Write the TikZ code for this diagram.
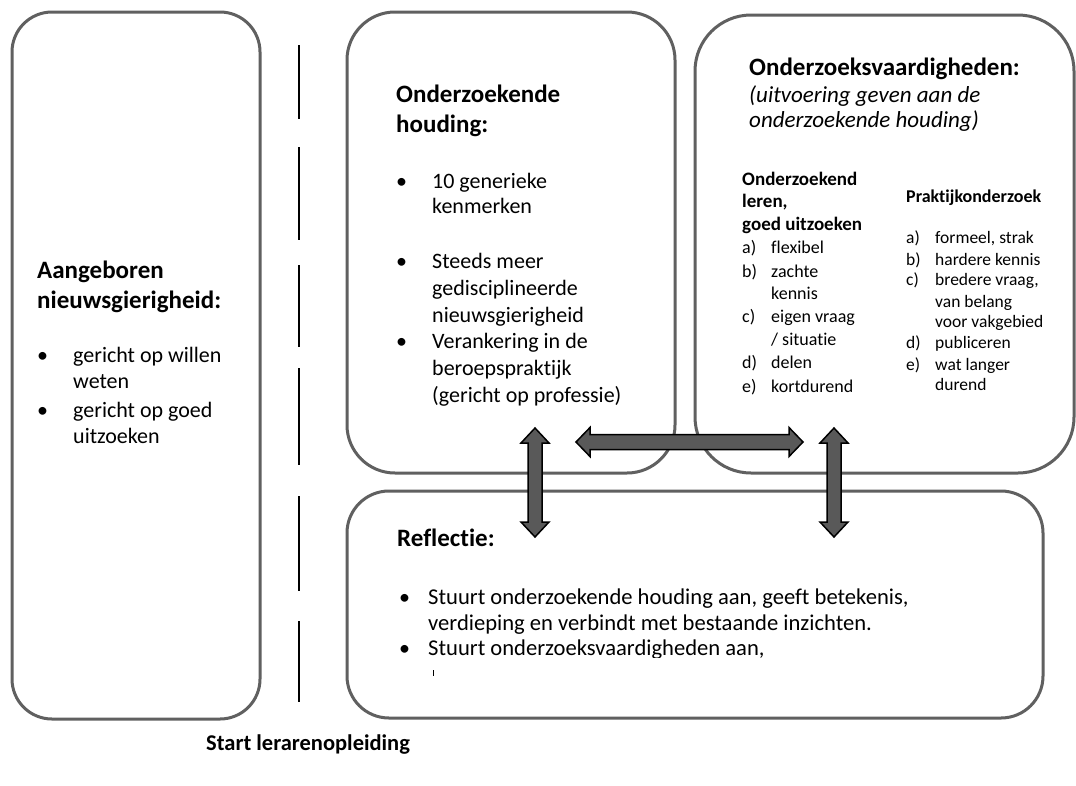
\documentclass[tikz,border=0pt]{standalone}
\usepackage{fontspec}
\setmainfont{Carlito}[Ligatures=NoCommon]
\definecolor{boxgray}{HTML}{606060}
\definecolor{arrgray}{HTML}{595959}
\newcommand{\vdarrow}[3]{%
  \draw[blockarrow] (#1,#2) -- ++(14,15) -- ++(-7,0) -- (#1+7,#3-15) -- ++(7,0) -- (#1,#3)
    -- ++(-14,-15) -- ++(7,0) -- (#1-7,#2+15) -- ++(-7,0) -- cycle;}
\newcommand{\hdarrow}[3]{%
  \draw[blockarrow] (#2,#1) -- ++(14,-14.5) -- ++(0,7) -- (#3-14,#1-7.5) -- ++(0,-7) -- (#3,#1)
    -- ++(-14,14.5) -- ++(0,-7) -- (#2+14,#1+7.5) -- ++(0,7) -- cycle;}
\begin{document}
\begin{tikzpicture}[x=1pt,y=-1pt,
  box/.style={draw=boxgray, line width=3pt, rounded corners=#1, inner sep=0pt},
  box/.default=42pt,
  blockarrow/.style={fill=arrgray, draw=black, line width=1.5pt, line join=miter},
  dashseg/.style={draw=black, line width=2.5pt},
  hd/.style={font=\fontsize{25}{30}\selectfont\bfseries, anchor=base west, inner sep=0pt},
  bd/.style={font=\fontsize{22}{27}\selectfont, anchor=base west, inner sep=0pt},
  bdw/.style={font=\fontsize{22.6}{27}\selectfont, anchor=base west, inner sep=0pt},
  it/.style={font=\fontsize{23}{27}\selectfont\itshape, anchor=base west, inner sep=0pt},
  smb/.style={font=\fontsize{19}{22}\selectfont\bfseries, anchor=base west, inner sep=0pt},
  sm/.style={font=\fontsize{18}{22}\selectfont, anchor=base west, inner sep=0pt},
  smr/.style={font=\fontsize{17.5}{21}\selectfont, anchor=base west, inner sep=0pt},
  smrb/.style={font=\fontsize{18}{21}\selectfont\bfseries, anchor=base west, inner sep=0pt},
  bul/.style={font=\fontsize{22}{27}\selectfont, anchor=base west, inner sep=0pt},
]
\useasboundingbox (0,0) rectangle (1076,785);
\fill[white] (0,0) rectangle (1076,785);

% boxes
\node[box=40pt, minimum width=248pt, minimum height=707pt] (b1) at (136,365.5) {};
\node[box=48pt, minimum width=328pt, minimum height=461pt] (b2) at (511,242.5) {};
\node[box=56pt, minimum width=379pt, minimum height=458pt] (b3) at (884.5,244) {};
\node[box=42pt, minimum width=696pt, minimum height=227pt] (b4) at (695,604.5) {};

% dashed divider
\foreach \a/\b in {45/119,147/240,265/347,368/465,496/591,621/702}
  \draw[dashseg] (299,\a) -- (299,\b);

% box 1 text
\node[hd] (t1a) at (37,278) {Aangeboren};
\node[hd] (t1b) at (37,308) {nieuwsgierigheid:};
\node[bul] (u1a) at (37,362) {\textbullet};
\node[bd] (t1c) at (73,362) {gericht op willen};
\node[bd] (t1d) at (73,388) {weten};
\node[bul] (u1b) at (37,417) {\textbullet};
\node[bd] (t1e) at (73,417) {gericht op goed};
\node[bd] (t1f) at (73,443) {uitzoeken};

% box 2 text
\node[hd] (t2a) at (396,102) {Onderzoekende};
\node[hd] (t2b) at (396,132) {houding:};
\node[bul] (u2a) at (396,188) {\textbullet};
\node[bd] (t2c) at (432,188) {10 generieke};
\node[bd] (t2d) at (432,213) {kenmerken};
\node[bul] (u2b) at (396,268) {\textbullet};
\node[bd] (t2e) at (432,268) {Steeds meer};
\node[bd] (t2f) at (432,295) {gedisciplineerde};
\node[bd] (t2g) at (432,322) {nieuwsgierigheid};
\node[bul] (u2c) at (396,348) {\textbullet};
\node[bd] (t2h) at (432,348) {Verankering in de};
\node[bd] (t2i) at (432,375) {beroepspraktijk};
\node[bd] (t2j) at (432,402) {(gericht op professie)};

% box 3 text
\node[hd] (t3a) at (749,75) {Onderzoeksvaardigheden:};
\node[it] (t3b) at (749,102) {(uitvoering geven aan de};
\node[it] (t3c) at (749,127) {onderzoekende houding)};
\node[smb] (t3d) at (742,185) {Onderzoekend};
\node[smb] (t3e) at (742,207) {leren,};
\node[smb] (t3f) at (742,230) {goed uitzoeken};
\node[sm] (l3a) at (742,253) {a)};
\node[sm] (t3g) at (771,253) {flexibel};
\node[sm] (l3b) at (742,277) {b)};
\node[sm] (t3h) at (771,277) {zachte};
\node[sm] (t3i) at (771,299) {kennis};
\node[sm] (l3c) at (742,322) {c)};
\node[sm] (t3j) at (771,322) {eigen vraag};
\node[sm] (t3k) at (771,345) {/ situatie};
\node[sm] (l3d) at (742,368) {d)};
\node[sm] (t3l) at (771,368) {delen};
\node[sm] (l3e) at (742,392) {e)};
\node[sm] (t3m) at (771,392) {kortdurend};

\node[smrb] (t3n) at (906,202) {Praktijkonderzoek};
\node[smr] (l3f) at (906,243) {a)};
\node[smr] (t3o) at (935,243) {formeel, strak};
\node[smr] (l3g) at (906,265) {b)};
\node[smr] (t3p) at (935,265) {hardere kennis};
\node[smr] (l3h) at (906,285) {c)};
\node[smr] (t3q) at (935,285) {bredere vraag,};
\node[smr] (t3r) at (935,307) {van belang};
\node[smr] (t3s) at (935,327) {voor vakgebied};
\node[smr] (l3i) at (906,348) {d)};
\node[smr] (t3t) at (935,348) {publiceren};
\node[smr] (l3j) at (906,370) {e)};
\node[smr] (t3u) at (935,370) {wat langer};
\node[smr] (t3v) at (935,390) {durend};

% box 4 text
\node[hd] (t4a) at (397,546) {Reflectie:};
\node[bul] (u4a) at (399,604) {\textbullet};
\node[bdw] (t4b) at (428,604) {Stuurt onderzoekende houding aan, geeft betekenis,};
\node[bdw] (t4c) at (428,630) {verdieping en verbindt met bestaande inzichten.};
\begin{scope}
  \clip (380,630) rectangle (1000,657);
  \node[bul] (u4b) at (399,655) {\textbullet};
  \node[bdw] (t4d) at (428,655) {Stuurt onderzoeksvaardigheden aan,};
\end{scope}
\draw[black, line width=1pt] (433,670) -- (433,676);

% bottom label
\node[font=\fontsize{22.5}{27}\selectfont\bfseries, anchor=base west, inner sep=0pt] (start) at (206,750) {Start lerarenopleiding};

% arrows
\vdarrow{535}{428}{537}
\vdarrow{834}{428}{537}
\hdarrow{442}{576}{803}
\end{tikzpicture}
\end{document}
